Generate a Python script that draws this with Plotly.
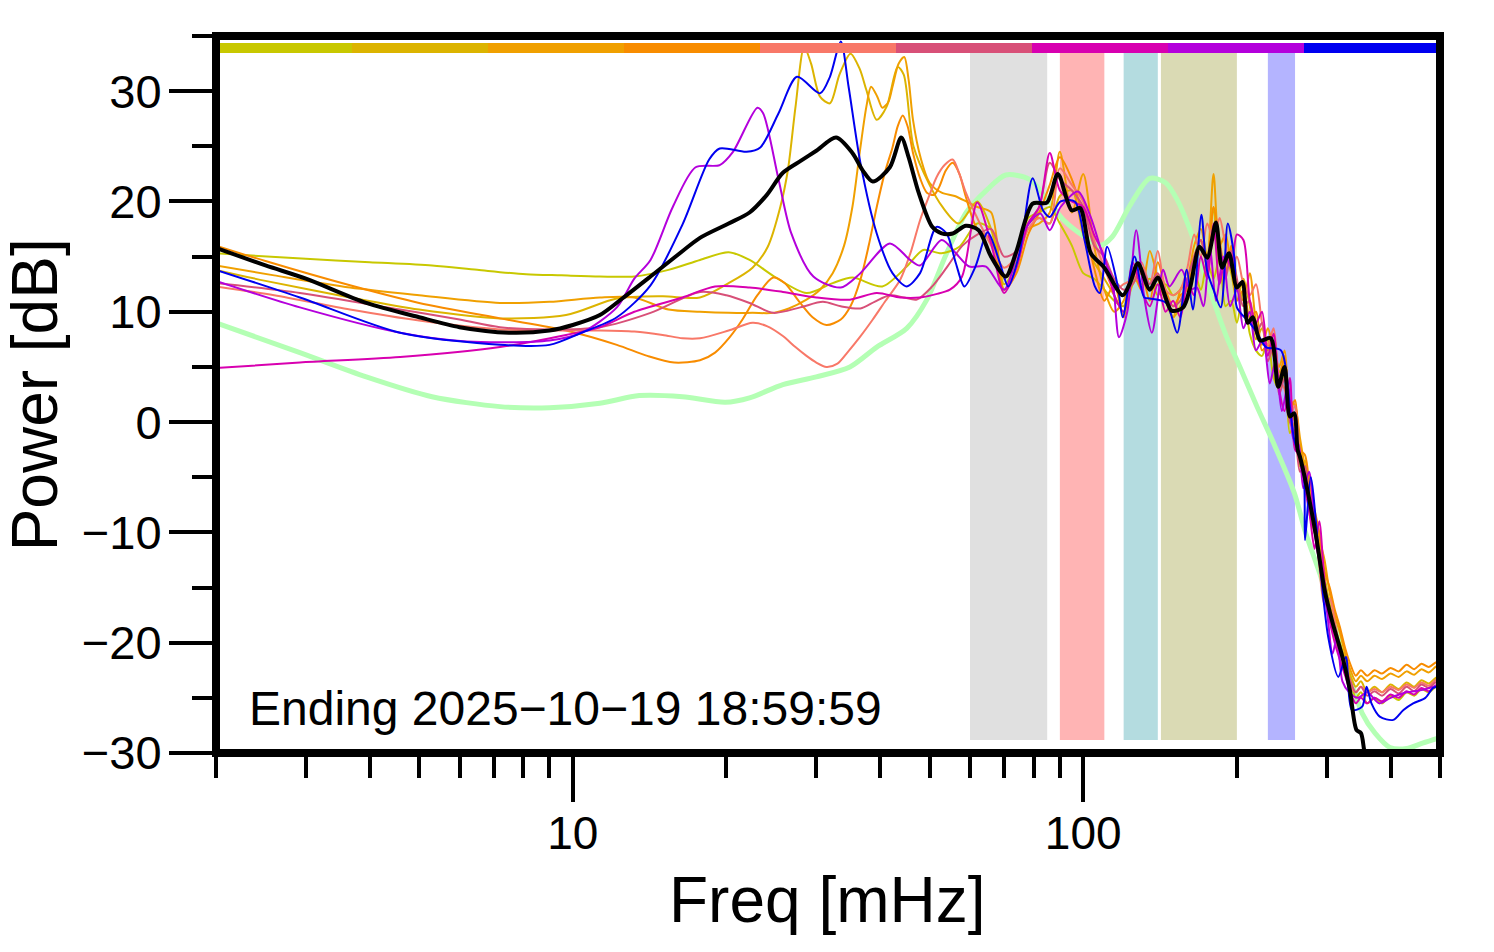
import plotly.graph_objects as go

# ---------------- data ----------------
hour_colors = ["#c8c800", "#dcb400", "#f0a000", "#f88c00", "#f87868",
               "#d85078", "#d800b0", "#b400dc", "#0000f0"]

band_edges = [(60, 85), (90, 110), (120, 140), (142, 200), (230, 260)]
band_colors = ["#e0e0e0", "#ffb4b4", "#b4dce0", "#dadab4", "#b4b4ff"]

G = [62, 66, 70, 74, 78, 82, 86, 90, 95, 100, 105, 110, 115, 120, 125, 130, 135, 140, 145, 150,
     155, 160, 165, 170, 175, 180, 185, 190, 195, 200, 206, 212, 218, 224, 230, 236, 242, 248, 254, 260,
     266, 272, 278, 284, 290, 297, 304, 311, 318, 326, 334, 342, 350, 360, 372, 385, 400, 415, 430, 445,
     460, 475, 490, 500]

# curve 1 (yellow-green)
c1_f = [2.0, 3.0, 4.0, 5.3, 6.5, 8.1, 9.5, 11.3, 13.2, 15.4, 17.75, 20.2, 22.2, 25.0, 28.7, 32.3, 35.3,
        40.4, 45.1, 48.6, 52.8, 57.2] + G
c1_db = [15.3, 14.8, 14.5, 14.2, 13.8, 13.4, 13.3, 13.2, 13.2, 13.8, 14.7, 15.4, 14.7, 13.1, 11.7, 12.6, 13.1,
         12.3, 14.1, 15.6, 15.3, 15.9,
         18.0, 17.5, 12.5, 14.5, 18.5, 19.0, 19.5, 18.0, 16.0, 13.5, 13.0, 12.0, 11.0, 10.5, 13.0, 12.5, 13.0, 11.5, 12.5, 11.5,
         12.0, 13.0, 13.5, 12.0, 14.5, 13.0, 15.0, 10.5, 11.0, 9.0, 12.0, 8.0, 6.5, 6.0, 7.5, 4.0, 3.0, 4.5, -1.0, 0.0,
         -4.0, -3.5, -8.5, -10.0, -12.5, -14.0, -17.0, -19.5, -20.0, -22.5, -23.5, -25.0, -24.5, -25.5, -25.0, -25.5, -24.8, -25.2, -24.5, -24.8,
         -24.2, -24.5, -24.0, -23.8]

# curve 2 (gold)
c2_f = [2.0, 2.5, 3.66, 5.0, 7.2, 9.7, 12.2, 15.0, 17.75, 20.2, 22.5, 24.1, 25.5, 26.4, 27.3, 28.4, 29.3, 30.5,
        31.9, 33.3, 35.0, 36.5, 37.6, 39.4, 41.2, 43.3, 44.5, 46.5, 50.0, 53.0, 57.0] + G
c2_db = [13.8, 12.8, 11.3, 10.2, 9.4, 9.7, 11.2, 11.4, 11.3, 12.6, 14.0, 15.9, 19.5, 22.9, 28.5, 34.0, 32.5, 29.5,
         28.9, 31.5, 33.4, 32.0, 30.1, 27.4, 28.6, 32.2, 31.5, 25.0, 21.5, 19.5, 18.0,
         20.0, 17.5, 13.0, 15.5, 18.0, 18.5, 18.0, 20.5, 21.0, 17.0, 14.5, 13.0, 11.5, 10.0, 12.5, 13.5, 12.0, 12.5, 11.5, 9.5,
         10.5, 12.5, 14.0, 16.5, 15.0, 19.5, 14.5, 15.0, 13.5, 11.0, 13.0, 10.5, 7.5, 8.5, 6.5, 8.0, 4.5, 5.5, 1.5, 0.0,
         -2.0, -5.5, -6.5, -10.0, -11.0, -14.5, -16.5, -18.5, -20.0, -21.5, -23.0, -24.0, -23.5, -24.5, -24.0, -24.5, -23.8, -24.2, -23.6, -24.0,
         -23.4, -23.7, -23.2, -23.0]

# curve 3 (orange)
c3_f = [2.0, 2.6, 3.66, 5.0, 7.2, 9.0, 11.3, 13.2, 15.4, 17.75, 20.2, 22.5, 24.7, 26.5, 28.7, 30.5, 32.3, 34.0,
        35.3, 36.5, 37.6, 38.4, 39.5, 40.4, 41.5, 42.3, 43.5, 44.6, 45.5, 46.4, 48.0, 50.0, 52.8, 56.0, 59.0] + G
c3_db = [14.2, 13.3, 12.2, 11.5, 10.8, 10.9, 11.3, 11.3, 10.2, 10.0, 9.9, 9.9, 9.9, 10.3, 11.1, 12.0, 13.5, 16.0,
         19.5, 24.5, 28.6, 30.4, 29.5, 28.5, 29.0, 30.4, 32.5, 33.1, 31.0, 27.4, 24.0, 21.7, 20.8, 20.5, 20.0,
         19.5, 19.0, 12.0, 14.0, 17.5, 18.0, 19.0, 24.5, 19.0, 22.5, 16.0, 12.0, 10.0, 11.0, 13.5, 12.0, 15.5, 13.0, 11.0, 9.5,
         12.0, 13.0, 16.0, 17.5, 15.0, 22.5, 16.0, 17.0, 14.0, 12.5, 11.0, 13.5, 9.0, 7.0, 8.5, 6.5, 5.0, 6.5, 2.0, 1.5,
         -1.5, -4.0, -5.0, -8.5, -10.5, -12.5, -15.5, -17.5, -19.0, -21.0, -22.5, -23.5, -23.0, -23.5, -23.0, -23.3, -22.8, -23.1, -22.6, -22.9,
         -22.4, -22.7, -22.2, -22.0]

# curve 4 (dark orange)
c4_f = [2.0, 2.5, 3.66, 5.0, 7.2, 9.7, 12.2, 14.0, 15.8, 17.75, 19.0, 20.3, 21.5, 23.0, 24.7, 26.0, 27.9, 29.5,
        31.4, 33.5, 35.0, 36.6, 38.0, 39.4, 40.8, 42.3, 43.3, 44.3, 45.3, 46.4, 48.0, 49.4, 51.0, 52.2, 53.8, 55.5,
        57.2, 58.9] + G
c4_db = [16.0, 14.6, 12.4, 10.8, 9.4, 8.3, 7.0, 6.0, 5.4, 5.6, 6.3, 7.7, 9.3, 11.5, 13.1, 12.6, 10.8, 9.5,
         8.8, 9.3, 10.5, 12.9, 16.0, 19.5, 22.5, 24.9, 26.8, 27.8, 26.8, 24.4, 22.0, 20.8, 20.6, 21.3, 22.8, 23.5,
         22.5, 20.4,
         17.5, 16.5, 12.0, 13.5, 17.0, 19.0, 21.5, 24.0, 22.0, 18.5, 14.0, 11.0, 12.5, 9.5, 14.0, 13.5, 11.0, 14.5, 12.0, 10.5,
         11.5, 12.0, 15.0, 16.5, 14.0, 19.5, 16.5, 13.5, 16.0, 11.0, 12.0, 9.5, 10.0, 6.5, 7.0, 6.0, 4.0, 6.0, 1.0, 2.0,
         -2.5, -3.0, -6.0, -8.0, -10.0, -13.5, -15.0, -17.0, -18.5, -20.5, -22.0, -23.0, -22.5, -23.0, -22.5, -22.8, -22.3, -22.6, -22.0, -22.4,
         -21.9, -22.2, -21.8, -21.6]

# curve 5 (salmon)
c5_f = [2.0, 2.6, 3.66, 5.0, 7.2, 9.5, 11.3, 13.2, 15.0, 16.4, 17.75, 20.2, 22.5, 24.0, 25.8, 27.3, 28.7, 30.0,
        31.4, 33.0, 34.5, 36.5, 38.7, 41.0, 43.8, 46.0, 47.9, 50.0, 51.6, 53.5, 55.5, 57.2, 58.9] + G
c5_db = [12.3, 11.5, 10.2, 9.2, 8.4, 8.3, 8.3, 8.2, 7.9, 7.6, 7.6, 8.3, 9.0, 8.7, 7.8, 6.8, 6.0, 5.4,
         5.0, 5.3, 6.3, 7.7, 9.3, 11.0, 12.9, 15.5, 18.3, 20.6, 22.2, 23.3, 23.8, 22.5, 20.8,
         18.5, 16.0, 14.0, 15.0, 17.5, 18.5, 18.0, 23.0, 21.5, 20.0, 16.5, 14.0, 12.0, 12.5, 13.0, 14.5, 12.5, 15.5, 12.0, 11.5,
         12.0, 14.0, 17.0, 15.0, 18.0, 16.5, 18.5, 16.0, 14.0, 15.0, 12.5, 11.5, 12.5, 9.0, 7.0, 8.5, 4.0, 3.0, 0.5, 1.5,
         -3.0, -4.5, -7.0, -9.0, -13.0, -16.5, -16.0, -18.0, -20.5, -22.5, -24.0, -24.5, -24.0, -24.5, -24.2, -24.5, -24.0, -24.3, -23.8, -24.1,
         -23.6, -23.9, -23.4, -23.3]

# curve 6 (pink)
c6_f = [2.0, 2.92, 4.59, 6.0, 7.2, 9.0, 11.3, 14.2, 17.75, 20.0, 22.2, 24.7, 27.9, 30.9, 33.5, 36.6, 39.0,
        41.8, 44.5, 47.2, 50.6, 54.0, 58.0] + G
c6_db = [12.6, 11.7, 10.2, 9.3, 8.6, 8.4, 8.6, 9.9, 11.8, 11.5, 10.8, 9.9, 10.4, 10.9, 10.5, 10.3, 10.9,
         11.5, 11.3, 11.1, 12.3, 14.0, 16.0,
         17.0, 17.5, 15.0, 15.5, 18.0, 19.5, 23.5, 22.0, 21.0, 19.5, 16.0, 15.0, 13.0, 12.0, 12.5, 14.0, 12.5, 13.5, 11.5, 10.5,
         11.0, 13.0, 15.0, 16.5, 14.0, 17.5, 16.0, 13.0, 15.5, 13.0, 10.5, 11.0, 8.0, 9.0, 5.5, 7.0, 2.5, 4.0, 0.0, -1.0,
         -4.5, -4.0, -8.0, -9.5, -12.5, -14.5, -17.5, -19.5, -21.0, -22.0, -23.5, -24.5, -24.0, -24.8, -24.4, -24.8, -24.2, -24.6, -24.0, -24.4,
         -23.8, -24.1, -23.6, -23.5]

# curve 7 (magenta)
c7_f = [2.0, 2.92, 4.59, 7.2, 9.7, 11.3, 13.2, 16.4, 19.0, 22.2, 25.8, 30.0, 34.9, 39.4, 43.8, 47.9, 51.5,
        54.8, 57.9] + G
c7_db = [4.9, 5.4, 5.9, 6.8, 7.9, 8.6, 10.0, 11.3, 12.3, 12.2, 11.8, 11.3, 11.1, 11.7, 11.3, 11.3, 11.6,
         12.0, 13.2,
         19.9, 16.2, 11.7, 14.0, 18.0, 19.5, 24.4, 21.0, 20.0, 19.5, 17.0, 15.0, 11.5, 10.0, 14.5, 12.0, 10.5, 12.5, 10.0, 11.0,
         9.5, 12.5, 11.5, 15.0, 13.0, 18.0, 12.5, 15.0, 14.0, 17.0, 16.5, 11.0, 9.0, 10.0, 6.0, 8.0, 3.0, 1.0, 4.0, -2.5,
         -3.0, -6.0, -8.5, -11.5, -9.0, -14.5, -18.0, -20.0, -21.5, -23.0, -24.5, -25.5, -25.0, -25.5, -25.0, -25.3, -24.7, -25.0, -24.4, -24.7,
         -24.1, -24.4, -23.9, -23.7]

# curve 8 (purple)
c8_f = [2.0, 2.92, 4.59, 6.2, 9.0, 10.4, 12.2, 13.2, 14.2, 15.7, 17.4, 19.4, 20.6, 23.0, 23.6, 25.3, 26.8, 29.6,
        33.5, 36.6, 41.8, 45.8, 47.9, 52.8, 56.3, 59.8, 64.5, 70.0, 76.7, 82.4, 86.0, 90.3, 97.7, 103.4, 110.0,
        114.0, 117.5, 122.0, 127.0, 131.7, 136.3, 143.4, 147.5, 155.8, 162.0, 167.0, 172.0, 177.0, 182.0, 188.0,
        194.0, 200.0, 206.0, 212.0, 218.0, 225.0, 232.0, 238.0, 245.0, 252.0, 258.0, 264.0, 270.0, 277.0, 285.0,
        292.0, 300.0, 308.0, 314.0, 322.0, 332.0, 345.0, 360.0, 380.0, 400.0, 430.0, 460.0, 500.0]
c8_db = [12.8, 10.4, 8.1, 7.3, 7.4, 8.1, 10.4, 13.0, 14.7, 19.5, 23.1, 23.3, 24.5, 28.5, 28.0, 22.0, 17.1, 13.2,
         12.2, 13.5, 16.2, 14.7, 14.2, 16.5, 15.3, 14.1, 14.1, 12.0, 17.4, 18.9, 17.4, 19.5, 20.9, 18.6, 14.7,
         13.0, 7.7, 10.0, 17.4, 11.3, 8.1, 13.8, 12.3, 13.8, 12.0, 12.2, 10.5, 16.0, 11.0, 15.0,
         10.5, 12.0, 8.5, 10.0, 6.5, 7.5, 3.5, 5.5, 1.0, 3.5, -1.5, -2.0, -6.0, -4.5, -10.5,
         -13.5, -17.0, -21.0, -19.5, -23.5, -24.5, -25.0, -24.5, -25.5, -25.0, -24.5, -24.3, -23.8]

# curve 9 (blue)
c9_f = [2.0, 2.92, 4.59, 7.2, 9.0, 10.4, 12.2, 14.2, 16.4, 18.5, 19.4, 21.9, 23.3, 25.3, 27.5, 30.5, 31.9, 33.5,
        34.7, 36.6, 39.4, 42.3, 45.1, 47.9, 51.6, 54.0, 56.3, 58.5, 61.5, 65.0, 68.7, 71.3, 75.0, 79.6, 83.4, 86.0,
        90.3, 96.3, 100.6, 105.4, 107.8, 111.4, 116.9, 119.5, 126.0, 131.7, 135.0, 145.4, 152.8, 159.5, 164.0,
        170.4, 174.7, 180.0, 186.0, 192.0, 198.0, 200.0, 212.0, 219.0, 228.0, 244.0, 254.0, 259.0, 270.0, 272.0,
        279.0, 290.0, 302.0, 316.0, 327.0, 336.0, 352.0, 359.0, 367.0, 381.0, 405.0, 424.0, 443.0, 468.0, 485.0, 500.0]
c9_db = [13.8, 11.3, 8.1, 7.0, 7.0, 8.1, 9.5, 12.4, 17.9, 23.8, 24.8, 24.5, 24.9, 28.0, 31.3, 29.8, 31.3, 34.5,
         30.4, 23.5, 17.1, 13.5, 12.3, 13.5, 17.7, 17.1, 14.4, 12.3, 14.1, 17.2, 14.4, 12.3, 15.3, 22.1, 19.2, 18.6,
         20.0, 20.0, 16.5, 12.3, 11.7, 15.9, 12.3, 9.5, 15.0, 11.3, 11.2, 10.8, 8.1, 13.8, 10.2,
         18.8, 13.8, 12.0, 10.4, 18.0, 14.7, 10.4, 9.0, 8.1, 6.8, 6.5, 1.4, -1.6, -4.3, -10.7,
         -5.0, -12.3, -19.5, -23.1, -21.3, -26.1, -25.8, -24.0, -25.5, -26.7, -27.0, -26.1, -25.5, -25.0, -24.1, -24.0]

# green reference curve
ref_f = [2.0, 2.92, 3.94, 5.3, 7.2, 9.0, 11.3, 13.5, 16.4, 19.9, 22.2, 25.8, 30.0, 34.9, 39.4, 45.1, 49.4, 54.0,
         59.0, 64.6, 70.5, 78.5, 86.0, 91.6, 100.6, 107.8, 114.0, 123.0, 135.0, 145.0, 153.0, 162.0, 177.0, 191.0,
         201.0, 219.0, 236.0, 259.0, 273.0, 292.0, 312.0, 333.0, 352.0, 373.0, 399.0, 430.0, 462.0, 500.0]
ref_db = [9.0, 6.3, 4.1, 2.3, 1.4, 1.3, 1.7, 2.4, 2.3, 1.8, 2.2, 3.4, 4.1, 5.0, 6.8, 8.5, 11.1, 15.3,
          19.0, 21.0, 22.4, 22.0, 19.9, 18.3, 16.8, 16.0, 16.8, 19.5, 22.1, 21.7, 20.1, 17.4, 12.0, 7.7,
          5.4, 1.4, -1.9, -6.4, -10.1, -14.0, -18.6, -23.1, -26.4, -28.2, -29.5, -29.6, -29.1, -28.6]

# black mean curve
mean_f = [2.0, 2.5, 3.0, 3.94, 5.0, 6.0, 7.5, 9.0, 10.0, 11.3, 12.5, 14.2, 16.0, 17.75, 20.2, 22.2, 24.0, 25.8,
          28.0, 30.0, 32.8, 35.3, 37.0, 38.7, 41.8, 44.0, 45.5, 47.6, 50.6, 52.8, 55.5, 58.9, 62.4, 66.0, 70.5,
          74.0, 79.6, 84.9, 89.2, 94.9, 98.6, 103.5, 110.0, 119.5, 123.5, 128.0, 135.0, 140.0, 149.0, 157.0,
          162.0, 169.0, 175.0, 182.0, 187.0, 193.0, 200.0, 205.0, 210.0, 215.0, 222.0, 233.0, 241.0, 248.0,
          254.0, 259.0, 263.0, 266.0, 275.0, 286.0, 297.0, 308.0, 322.0, 333.0, 343.0, 350.0, 355.0, 362.0]
mean_db = [15.8, 14.2, 13.0, 10.8, 9.5, 8.6, 8.1, 8.3, 8.8, 9.7, 11.2, 13.2, 15.1, 16.7, 18.0, 19.0, 20.6, 22.6,
           23.7, 24.6, 25.8, 24.4, 22.8, 21.8, 23.1, 25.8, 24.0, 20.8, 17.7, 17.1, 17.1, 17.8, 17.4, 15.0, 13.2,
           15.5, 19.8, 19.9, 22.5, 19.2, 19.4, 15.3, 14.0, 11.5, 12.6, 14.4, 12.0, 13.1, 10.1, 10.4,
           12.2, 15.9, 14.9, 18.1, 14.0, 15.3, 12.2, 12.7, 9.0, 9.5, 7.4, 7.6, 3.2, 5.0,
           0.5, 0.8, -2.5, -3.2, -6.2, -10.4, -15.2, -18.2, -21.3, -24.3, -27.9, -28.2, -29.7, -32.0]

hour_series = [(c1_f, c1_db), (c2_f, c2_db), (c3_f, c3_db), (c4_f, c4_db), (c5_f, c5_db),
               (c6_f, c6_db), (c7_f, c7_db), (c8_f, c8_db), (c9_f, c9_db)]

x_major = [10, 100]
x_minor = [2, 3, 4, 5, 6, 7, 8, 9, 20, 30, 40, 50, 60, 70, 80, 90, 200, 300, 400, 500]
y_major = [-30, -20, -10, 0, 10, 20, 30]
y_major_text = ["\u221230", "\u221220", "\u221210", "0", "10", "20", "30"]
y_minor = [-25, -15, -5, 5, 15, 25, 35]

ending_text = "Ending 2025\u221210\u221219 18:59:59"

# ---------------- figure ----------------
FONT = "Liberation Sans, Arial, Helvetica, sans-serif"
fig = go.Figure()

fig.add_trace(go.Scatter(x=ref_f, y=ref_db, mode="lines",
                         line=dict(color="#b4ffb4", width=5, shape="spline", smoothing=0.8),
                         showlegend=False, hoverinfo="skip"))
for (fx, fy), col in zip(hour_series, hour_colors):
    fig.add_trace(go.Scatter(x=fx, y=fy, mode="lines",
                             line=dict(color=col, width=2, shape="spline", smoothing=0.8),
                             showlegend=False, hoverinfo="skip"))
fig.add_trace(go.Scatter(x=mean_f, y=mean_db, mode="lines",
                         line=dict(color="black", width=4, shape="spline", smoothing=0.8),
                         showlegend=False, hoverinfo="skip"))

# frequency bands
for (b0, b1), col in zip(band_edges, band_colors):
    fig.add_shape(type="rect", xref="x", yref="paper", x0=b0, x1=b1, y0=0.018, y1=0.9763,
                  fillcolor=col, line=dict(width=0), layer="below")

# hour colour strip at top
n = len(hour_colors)
for i, col in enumerate(hour_colors):
    fig.add_shape(type="rect", xref="paper", yref="paper", x0=i / n, x1=(i + 1) / n,
                  y0=0.9763, y1=0.9902, fillcolor=col, line=dict(width=0), layer="above")

# frame
fig.add_shape(type="rect", xref="paper", yref="paper", x0=0, x1=1, y0=0, y1=1,
              line=dict(color="black", width=8), fillcolor="rgba(0,0,0,0)", layer="above")

fig.add_annotation(text=ending_text, xref="paper", yref="paper", x=0.0253, y=0.0614,
                   xanchor="left", yanchor="middle", showarrow=False,
                   font=dict(family=FONT, size=48, color="black"))
fig.add_annotation(text="Power [dB]", xref="paper", yref="paper", x=-0.148, y=0.5,
                   xanchor="center", yanchor="middle", textangle=-90, showarrow=False,
                   font=dict(family=FONT, size=64, color="black"))
fig.add_annotation(text="Freq [mHz]", xref="paper", yref="paper", x=0.499, y=-0.205,
                   xanchor="center", yanchor="middle", showarrow=False,
                   font=dict(family=FONT, size=64, color="black"))

fig.update_layout(
    width=1494, height=952,
    margin=dict(l=216, r=54, t=36, b=199),
    paper_bgcolor="white", plot_bgcolor="white",
    showlegend=False,
    xaxis=dict(type="log", range=[0.30103, 2.69897], showgrid=False, zeroline=False, showline=False,
               tickmode="array", tickvals=x_major, ticktext=["10", "100"],
               ticks="outside", ticklen=48, tickwidth=3.5, tickcolor="black",
               ticklabelstandoff=-8,
               tickfont=dict(family=FONT, size=46, color="black"),
               minor=dict(tickmode="array", tickvals=x_minor, ticks="outside", ticklen=24,
                          tickwidth=3.5, tickcolor="black", showgrid=False)),
    yaxis=dict(range=[-30, 35], showgrid=False, zeroline=False, showline=False,
               tickmode="array", tickvals=y_major, ticktext=y_major_text,
               ticks="outside", ticklen=46, tickwidth=3.5, tickcolor="black",
               ticklabelstandoff=-2,
               tickfont=dict(family=FONT, size=47, color="black"),
               minor=dict(tickmode="array", tickvals=y_minor, ticks="outside", ticklen=23,
                          tickwidth=3.5, tickcolor="black", showgrid=False)),
)

fig.write_html("out.html", config={"displayModeBar": False},
               post_script="document.body.style.margin='0px';")
